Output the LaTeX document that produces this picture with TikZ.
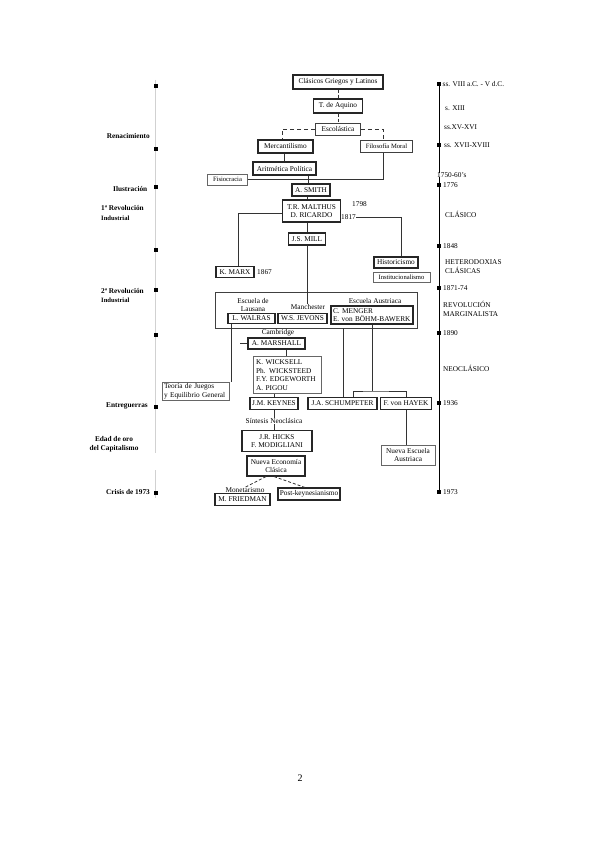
\documentclass[tikz,border=0pt]{standalone}
\usepackage{fontspec}
\setmainfont{Liberation Serif}
\newcommand{\bxf}{\fontsize{7.3}{8.7}\selectfont}
\newcommand{\smf}{\fontsize{6.6}{7.5}\selectfont}
\tikzset{
  box/.style={draw=black!85, line width=1.1pt, fill=white, inner sep=0pt, font=\bxf, align=center},
  dbox/.style={draw=black!75, line width=0.8pt, fill=white, inner sep=0pt, font=\smf, align=center},
  tbox/.style={draw=black!60, line width=0.7pt, fill=white, inner sep=0pt, font=\smf, align=center},
  frame/.style={draw=black!75, line width=0.8pt, inner sep=0pt},
  lab/.style={inner sep=0pt, font=\bxf},
  rlab/.style={inner sep=0pt, font=\bxf, anchor=west},
  llab/.style={inner sep=0pt, font=\bxf\bfseries},
  conn/.style={draw=black!80, line width=0.8pt},
  tmark/.style={fill=black, minimum size=4pt, inner sep=0pt},
}
\begin{document}
\begin{tikzpicture}[x=1pt,y=-1pt]
\useasboundingbox (0,0) rectangle (600,848);
% ---------- timelines ----------
\draw[black!18, line width=1.3pt] (155.5,80) -- (155.5,453);
\draw[black!18, line width=1.3pt] (155.5,470) -- (155.5,498);
\foreach \yy [count=\i] in {86,149,187,250,290,335,407,493}
  \node[tmark] (lm\i) at (155.5,\yy) {};
\draw[black, line width=0.9pt] (439,84) -- (439,492);
\foreach \yy [count=\i] in {84,145,185,246,288,333,403,492}
  \node[tmark] (rm\i) at (439,\yy) {};
% left labels
\node[llab, anchor=east] (renac) at (150,136) {Renacimiento};
\node[llab, anchor=east] (ilus) at (147.5,189) {Ilustración};
\node[llab, anchor=west] (rev1) at (101,208) {1ª Revolución};
\node[lab, font=\smf\bfseries, anchor=west] (ind1) at (101,218) {Industrial};
\node[llab, anchor=west] (rev2) at (101,291) {2ª Revolución};
\node[lab, font=\smf\bfseries, anchor=west] (ind2) at (101,300) {Industrial};
\node[llab, anchor=east] (entre) at (148,406) {Entreguerras};
\node[llab, align=center] (edad) at (114,444) {Edad de oro\\del Capitalismo};
\node[llab, anchor=east] (crisis) at (150,492) {Crisis de 1973};
% right labels
\node[rlab] (r1) at (442.5,84) {ss. VIII a.C. - V d.C.};
\node[rlab] (r2) at (445,108) {s. XIII};
\node[rlab] (r3) at (444,127) {ss.XV-XVI};
\node[rlab] (r4) at (444,145.5) {ss. XVII-XVIII};
\node[rlab, fill=white] (r5) at (437,175) {1750-60's};
\node[rlab] (r6) at (443,185.5) {1776};
\node[rlab] (r7) at (445,214) {CLÁSICO};
\node[rlab] (r8) at (443,246) {1848};
\node[rlab, align=left] (r9) at (445,266.5) {HETERODOXIAS\\CLÁSICAS};
\node[rlab] (r10) at (443,288) {1871-74};
\node[rlab, align=left] (r11) at (443,309) {REVOLUCIÓN\\MARGINALISTA};
\node[rlab] (r12) at (443,333) {1890};
\node[rlab] (r13) at (443,368) {NEOCLÁSICO};
\node[rlab] (r14) at (443,403.5) {1936};
\node[rlab] (r15) at (443,492) {1973};
% ---------- nodes ----------
\node[box, minimum width=90, minimum height=14] (clas) at (338,82) {Clásicos Griegos y Latinos};
\node[box, minimum width=49, minimum height=14] (aquino) at (338,106) {T. de Aquino};
\node[dbox, font=\bxf, minimum width=45, minimum height=12] (escol) at (338,129) {Escolástica};
\node[box, minimum width=55, minimum height=13] (merc) at (285.5,146.5) {Mercantilismo};
\node[dbox, minimum width=52, minimum height=12] (filo) at (386.5,146.5) {Filosofía Moral};
\node[box, minimum width=63, minimum height=13] (arit) at (284.5,168.5) {Aritmética Política};
\node[tbox, minimum width=40, minimum height=11] (fisio) at (227.5,179.5) {Fisiocracia};
\node[box, minimum width=38, minimum height=12] (smith) at (311,190) {A. SMITH};
\node[box, minimum width=58, minimum height=22] (malt) at (311.5,211) {T.R. MALTHUS\\D. RICARDO};
\node[lab] (y1798) at (359.5,204) {1798};
\node[lab] (y1817) at (348.5,217) {1817};
\node[box, minimum width=37, minimum height=12] (mill) at (307,239) {J.S. MILL};
\node[box, minimum width=38, minimum height=11] (marx) at (235,272) {K. MARX};
\node[lab, anchor=west] (y1867) at (257,272) {1867};
\node[box, minimum width=44, minimum height=11] (hist) at (396,262.5) {Historicismo};
\node[tbox, minimum width=57, minimum height=10] (inst) at (401.5,277.5) {Institucionalismo};
% marginalist frame
\node[frame, minimum width=202, minimum height=36] (marg) at (316,310) {};
\node[lab, align=center] (laus) at (253,305) {Escuela de\\Lausana};
\node[box, minimum width=47, minimum height=10] (walras) at (251.5,318.5) {L. WALRAS};
\node[lab] (manch) at (308,307) {Manchester};
\node[box, minimum width=49, minimum height=10] (jevons) at (302.5,318.5) {W.S. JEVONS};
\node[lab] (aust) at (375,301) {Escuela Austriaca};
\node[box, minimum width=82, minimum height=18, align=left, text width=78] (menger) at (372,315) {C. MENGER\\E. von BÖHM-BAWERK};
\node[lab] (camb) at (278,332.5) {Cambridge};
\node[box, minimum width=57, minimum height=11] (marsh) at (276.5,343.5) {A. MARSHALL};
\node[tbox, font=\bxf, minimum width=68, minimum height=37, align=left, text width=62] (wick) at (287,375) {K. WICKSELL\\Ph. WICKSTEED\\F.Y. EDGEWORTH\\A. PIGOU};
\node[tbox, font=\bxf, minimum width=67, minimum height=18, align=left, text width=63] (teoria) at (195.5,391) {Teoría de Juegos\\y Equilibrio General};
\node[box, minimum width=48, minimum height=12] (keynes) at (274,403.5) {J.M. KEYNES};
\node[box, minimum width=69, minimum height=12] (schump) at (342.5,403.5) {J.A. SCHUMPETER};
\node[box, minimum width=51, minimum height=12] (hayek) at (406,403.5) {F. von HAYEK};
\node[lab] (sint) at (274,421) {Síntesis Neoclásica};
\node[box, minimum width=70, minimum height=21] (hicks) at (277,441) {J.R. HICKS\\F. MODIGLIANI};
\node[tbox, font=\bxf, minimum width=54, minimum height=20] (nea) at (408,455) {Nueva Escuela\\Austriaca};
\node[box, minimum width=58, minimum height=20] (nec) at (276,466) {Nueva Economía\\Clásica};
\node[lab] (monet) at (245,490) {Monetarismo};
\node[box, minimum width=55, minimum height=12] (fried) at (242.5,499.5) {M. FRIEDMAN};
\node[box, minimum width=62, minimum height=12] (postk) at (309,494) {Post-keynesianismo};
\node[inner sep=0pt, font=\fontsize{10}{12}\selectfont] (pagenum) at (300,778) {2};
\coordinate (mstub) at (240,343.5);
% ---------- connectors ----------
\draw[conn, densely dashed] (clas) -- (aquino);
\draw[conn, densely dashed] (aquino) -- (escol);
\draw[conn, dashed, dash pattern=on 4pt off 3pt] (escol.west) -| ([xshift=-3.5]merc.north);
\draw[conn, dashed, dash pattern=on 4pt off 3pt] (escol.east) -| ([xshift=-3.5]filo.north);
\draw[conn] ([xshift=-1]merc.south) -- ([xshift=-1]merc.south |- arit.north);
\draw[conn] ([xshift=-3]smith.north |- arit.south) -- ([xshift=-3]smith.north);
\draw[conn] (fisio.east) -- ([xshift=-3.5]filo.south |- fisio.east) -- ([xshift=-3.5]filo.south);
\draw[conn] ([xshift=-3.5]smith.south) -- ([xshift=-3.5]smith.south |- malt.north);
\draw[conn] (mill.north |- malt.south) -- (mill.north);
\draw[conn] (mill.south) -- (mill.south |- manch.north);
\draw[conn] ([yshift=-2.5]malt.west) -| ([xshift=3]marx.north);
\draw[conn] (y1817.east) -| ([xshift=5]hist.north);
\draw[conn] ([xshift=-20.5]walras.south) -- ([xshift=-20.5]walras.south |- teoria.north);
\draw[conn] ([xshift=27]marg.south) -- ([xshift=27]marg.south |- schump.north);
\coordinate (split) at (372,391);
\draw[conn] (menger.south) -- (split);
\draw[conn] ([xshift=11]schump.north) |- (split) -| (hayek.north);
\draw[conn] (mstub) -- (marsh.west);
\draw[conn] ([xshift=9.5]marsh.south) -- ([xshift=9.5]marsh.south |- wick.north);
\draw[conn] (keynes.north |- wick.south) -- (keynes.north);
\draw[conn] (keynes.south) -- (keynes.south |- sint.north);
\draw[conn] (keynes.south |- sint.south) -- (keynes.south |- hicks.north);
\draw[conn] (hayek.south) -- (hayek.south |- nea.north);
\draw[conn, densely dashed] ([xshift=-10]nec.south) -- (monet.north);
\draw[conn, densely dashed] ([xshift=-2]nec.south) -- ([xshift=-4]postk.north);
\end{tikzpicture}
\end{document}
